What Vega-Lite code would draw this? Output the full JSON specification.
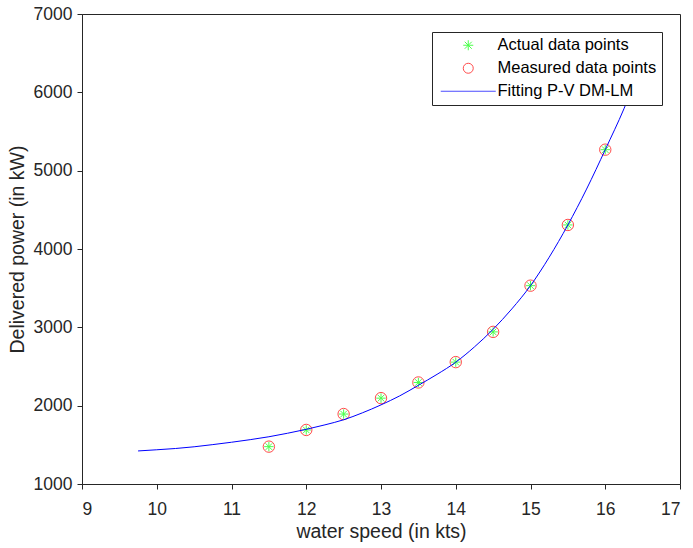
{
  "$schema": "https://vega.github.io/schema/vega-lite/v6.json",
  "width": 598,
  "height": 470,
  "autosize": {"type": "none"},
  "padding": {"left": 82, "top": 14, "right": 13, "bottom": 64},
  "background": "white",
  "datasets": {
    "points": [
      {"v": 11.5, "P": 1477},
      {"v": 12.0, "P": 1690},
      {"v": 12.5, "P": 1893},
      {"v": 13.0, "P": 2096},
      {"v": 13.5, "P": 2296},
      {"v": 14.0, "P": 2556},
      {"v": 14.5, "P": 2942},
      {"v": 15.0, "P": 3532},
      {"v": 15.5, "P": 4307},
      {"v": 16.0, "P": 5268}
    ],
    "curve": [
      {"v": 9.75, "P": 1422},
      {"v": 10.0, "P": 1437},
      {"v": 10.25, "P": 1453},
      {"v": 10.5, "P": 1475},
      {"v": 10.75, "P": 1503},
      {"v": 11.0, "P": 1533},
      {"v": 11.25, "P": 1566},
      {"v": 11.5, "P": 1603},
      {"v": 11.75, "P": 1648},
      {"v": 12.0, "P": 1698},
      {"v": 12.25, "P": 1755},
      {"v": 12.5, "P": 1820},
      {"v": 12.75, "P": 1908},
      {"v": 13.0, "P": 2010},
      {"v": 13.25, "P": 2125},
      {"v": 13.5, "P": 2260},
      {"v": 13.75, "P": 2400},
      {"v": 14.0, "P": 2555},
      {"v": 14.25, "P": 2750},
      {"v": 14.5, "P": 2975},
      {"v": 14.75, "P": 3235},
      {"v": 15.0, "P": 3532},
      {"v": 15.25, "P": 3895},
      {"v": 15.5, "P": 4307},
      {"v": 15.75, "P": 4765},
      {"v": 16.0, "P": 5268},
      {"v": 16.25, "P": 5790},
      {"v": 16.5, "P": 6400}
    ]
  },
  "encoding": {
    "x": {"field": "v", "type": "quantitative", "title": "water speed (in kts)",
      "scale": {"domain": [9, 17], "nice": false, "zero": false},
      "axis": {"orient": "bottom", "values": [9,10,11,12,13,14,15,16,17], "format": "d", "ticks": true, "tickSize": 5, "tickColor": "#262626",
        "grid": false, "labelPadding": 11, "titlePadding": 5}},
    "y": {"field": "P", "type": "quantitative", "title": "Delivered power (in kW)",
      "scale": {"domain": [1000, 7000], "nice": false, "zero": false},
      "axis": {"orient": "left", "values": [1000,2000,3000,4000,5000,6000,7000], "format": "d", "ticks": true, "tickSize": 5, "tickColor": "#262626",
        "grid": false, "labelPadding": 5, "titlePadding": 6}},
    "color": {"field": "series", "type": "nominal",
      "scale": {"domain": ["Actual data points", "Measured data points", "Fitting P-V DM-LM"], "range": ["#00ff00", "#ff0000", "#0000ff"]},
      "legend": {"title": null}}
  },
  "layer": [
    {
      "data": {"name": "points"},
      "transform": [{"calculate": "'Actual data points'", "as": "series"}],
      "mark": {"type": "point", "filled": false, "strokeWidth": 1, "size": 90},
      "encoding": {
        "shape": {"field": "series", "type": "nominal",
          "scale": {"domain": ["Actual data points", "Measured data points", "Fitting P-V DM-LM"], "range": ["M0,-1L0,1M-1,0L1,0M-0.7,-0.7L0.7,0.7M-0.7,0.7L0.7,-0.7", "circle", "M-5.5,0L5.5,0"]},
          "legend": {"title": null}}
      }
    },
    {
      "data": {"name": "points"},
      "transform": [{"calculate": "'Measured data points'", "as": "series"}],
      "mark": {"type": "point", "filled": false, "strokeWidth": 1, "size": 130},
      "encoding": {
        "shape": {"field": "series", "type": "nominal", "legend": {"title": null}}
      }
    },
    {
      "data": {"name": "curve"},
      "transform": [{"calculate": "'Fitting P-V DM-LM'", "as": "series"}],
      "mark": {"type": "line", "strokeWidth": 1, "interpolate": "monotone"},
      "encoding": {}
    }
  ],
  "config": {
    "font": "Liberation Sans",
    "view": {"stroke": "#262626", "strokeWidth": 1},
    "axis": {
      "domainColor": "#262626",
      "domainWidth": 1,
      "tickWidth": 1,
      "labelFont": "Liberation Sans",
      "labelFontSize": 17.5,
      "labelColor": "#262626",
      "titleFont": "Liberation Sans",
      "titleFontSize": 19.5,
      "titleFontWeight": "normal",
      "titleColor": "#262626"
    },
    "legend": {
      "orient": "none",
      "legendX": 350,
      "legendY": 18,
      "fillColor": "white",
      "strokeColor": "#262626",
      "padding": 5,
      "labelFont": "Liberation Sans",
      "labelFontSize": 16.5,
      "labelColor": "#000000",
      "symbolSize": 100,
      "symbolStrokeWidth": 1,
      "symbolFillColor": "transparent",
      "symbolOffset": 23,
      "labelOffset": 21,
      "rowPadding": 6,
      "labelLimit": 300
    }
  }
}
